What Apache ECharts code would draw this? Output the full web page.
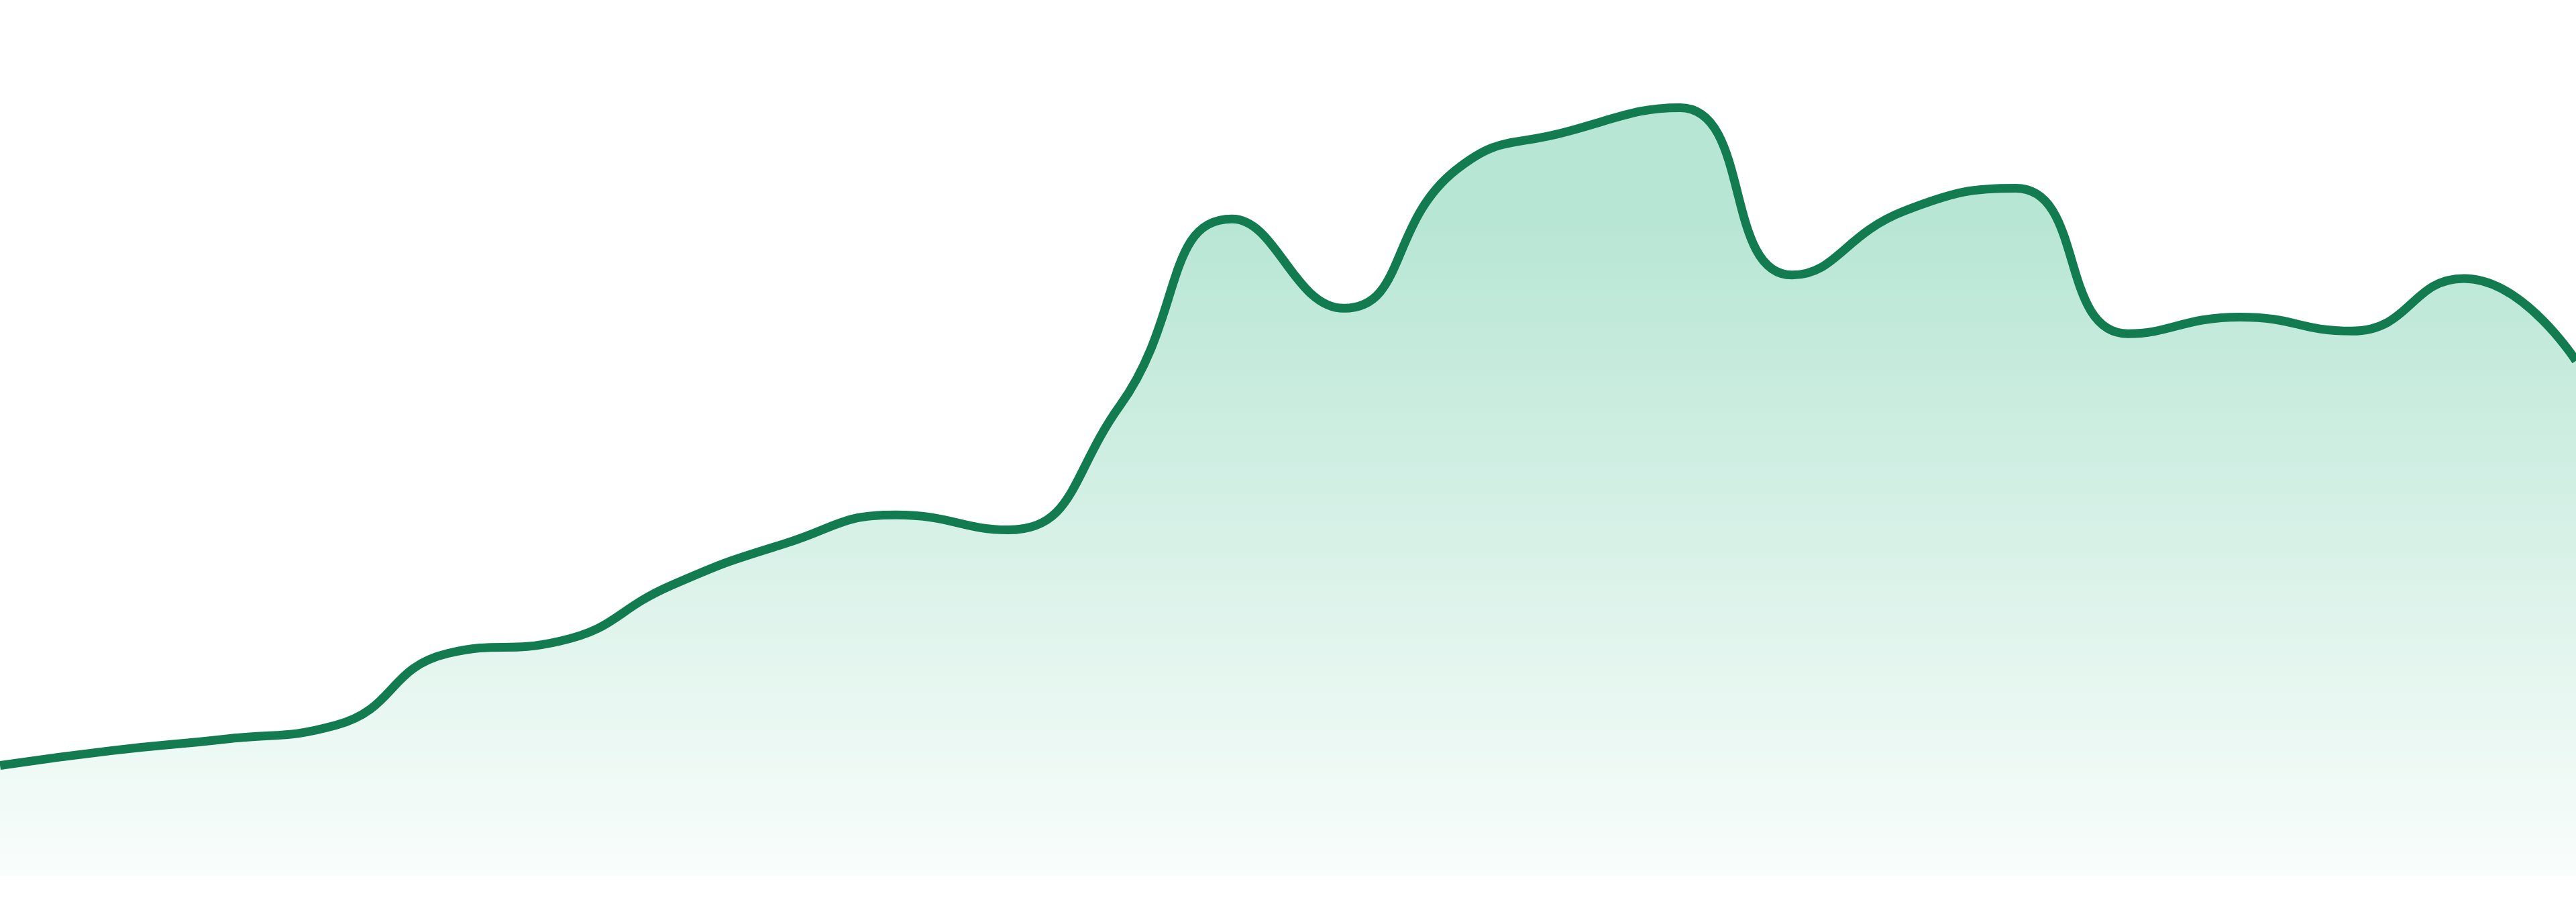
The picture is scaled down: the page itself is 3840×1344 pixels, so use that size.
<!DOCTYPE html>
<html>
<head>
    <meta charset="utf-8">
    <title>趋势</title>
    <script src="https://cdn.jsdelivr.net/npm/echarts@6/dist/echarts.min.js"></script>
    <style>
        html, body { margin: 0; padding: 0; background: #ffffff; }
        #trendChart { width: 3840px; height: 1344px; }
    </style>
</head>
<body>
<div id="trendChart"></div>
<script>
    // 横轴：24 个时段
    var hours = ['00', '01', '02', '03', '04', '05', '06', '07', '08', '09', '10', '11',
                 '12', '13', '14', '15', '16', '17', '18', '19', '20', '21', '22', '23'];
    // 数值（从图上读出来的）
    var values = [12.6, 14.3, 15.6, 17.2, 25.4, 26.8, 33.2, 37.9, 41.2, 39.5, 53.7, 75.0,
                  64.8, 80.6, 85.0, 87.7, 68.6, 75.9, 78.5, 61.9, 63.8, 62.2, 68.2, 58.8];
    var yMin = 0;
    var yMax = 100;

    var trendChart = echarts.init(document.getElementById('trendChart'), null, {
        renderer: 'canvas'
    });

    var option = {
        animation: false,
        grid: {
            left: 0,
            right: 0,
            top: 0,
            bottom: 39
        },
        xAxis: {
            type: 'category',
            boundaryGap: false,
            data: hours,
            show: false
        },
        yAxis: {
            type: 'value',
            min: yMin,
            max: yMax,
            show: false
        },
        series: [
            {
                type: 'line',
                data: values,
                smooth: true,
                symbol: 'none',
                lineStyle: {
                    color: '#127b50',
                    width: 13
                },
                areaStyle: {
                    opacity: 1, // 默认是 0.7，会变浅
                    // 全局坐标的渐变，顶部一段保持同色
                    color: new echarts.graphic.LinearGradient(0, 161, 0, 1305, [
                        {offset: 0, color: '#b8e6d5'},
                        {offset: 0.15, color: '#b8e6d5'},
                        {offset: 1, color: '#f9fdfb'}
                    ], true)
                }
            }
        ]
    };
    trendChart.setOption(option);
</script>
</body>
</html>
